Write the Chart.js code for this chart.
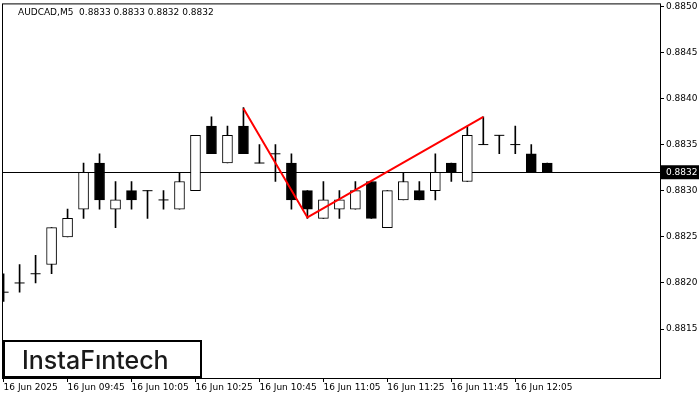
<!DOCTYPE html>
<html><head><meta charset="utf-8">
<script src="https://cdn.jsdelivr.net/npm/chart.js@4"></script>
<style>html,body{margin:0;padding:0;background:#fff;overflow:hidden}#w{width:704px;height:404px;position:absolute;left:-4px;top:-4px}</style>
</head><body><div id="w"><canvas id="c"></canvas></div>
<script>
const times=['16 Jun 2025','09:30','09:35','09:40','16 Jun 09:45','09:50','09:55','10:00','16 Jun 10:05','10:10','10:15','10:20','16 Jun 10:25','10:30','10:35','10:40','16 Jun 10:45','10:50','10:55','11:00','16 Jun 11:05','11:10','11:15','11:20','16 Jun 11:25','11:30','11:35','11:40','16 Jun 11:45','11:50','11:55','12:00','16 Jun 12:05','12:10','12:15'];
const opens =[.8819,.8820,.8821,.8822,.8825,.8828,.8833,.8828,.8830,.8830,.8829,.8828,.8830,.8837,.8833,.8837,.8833,.8834,.8833,.8830,.8827,.8828,.8828,.8831,.8826,.8829,.8830,.8830,.8833,.8831,.8835,.8836,.8835,.8834,.8833];
const highs =[.8821,.8822,.8823,.8826,.8828,.8833,.8834,.8831,.8831,.8830,.8830,.8832,.8836,.8838,.8837,.8839,.8835,.8835,.8834,.8830,.8831,.8830,.8831,.8831,.8830,.8832,.8831,.8834,.8833,.8837,.8838,.8836,.8837,.8835,.8833];
const lows  =[.8818,.8819,.8820,.8821,.8825,.8827,.8828,.8826,.8828,.8827,.8828,.8828,.8830,.8834,.8833,.8834,.8833,.8831,.8828,.8827,.8827,.8827,.8828,.8827,.8826,.8829,.8829,.8829,.8831,.8831,.8835,.8834,.8834,.8832,.8832];
const closes=[.8819,.8820,.8821,.8826,.8827,.8832,.8829,.8829,.8829,.8830,.8829,.8831,.8836,.8834,.8836,.8834,.8833,.8834,.8829,.8828,.8829,.8829,.8830,.8827,.8830,.8831,.8829,.8832,.8832,.8836,.8835,.8836,.8835,.8832,.8832];
const patternIdx=[15,19,30];
const patternVal=[.88389,.88271,.8838];
const priceTicks=[.8815,.8820,.8825,.8830,.8835,.8840,.8845,.8850];
const timeTickIdx=[0,4,8,12,16,20,24,28,32];
const currentPrice=.8832;
const title='AUDCAD,M5  0.8833 0.8833 0.8832 0.8832';

const F='"DejaVu Sans"';
const O=4;
const wick=[],body=[],bodyCol=[],doji=[];
for(let i=0;i<opens.length;i++){
  wick.push({x:i,y:[lows[i],highs[i]]});
  if(opens[i]===closes[i]) doji.push({x:i,y:opens[i]});
  else {body.push({x:i,y:[opens[i],closes[i]]}); bodyCol.push(closes[i]>opens[i]?'#fff':'#000');}
}
const extra={id:'extra',
 beforeDatasetsDraw(ch){const c=ch.ctx,a=ch.chartArea,y=ch.scales.y.getPixelForValue(currentPrice);
  c.save();c.strokeStyle='#000';c.lineWidth=1;c.beginPath();c.moveTo(a.left,Math.round(y)+.5);c.lineTo(a.right,Math.round(y)+.5);c.stroke();c.restore();},
 afterDraw(ch){const c=ch.ctx,a=ch.chartArea,y=ch.scales.y.getPixelForValue(currentPrice);
  c.save();c.strokeStyle='#000';c.lineWidth=1;
  const L=Math.max(a.left,O+1),T=Math.max(a.top,O);
  c.strokeRect(L+.5,T+.5,a.right-L,a.bottom-T);
  c.fillStyle='#000';c.fillRect(a.right+1,y-7,38,14);c.fillStyle='#fff';c.font='9px '+F;c.textBaseline='middle';c.fillText(currentPrice.toFixed(4),a.right+6,y);
  c.fillStyle='#000';c.textBaseline='alphabetic';c.fillText(title,18+O,15+O);
  c.fillStyle='#fff';c.fillRect(3+O,341+O,198,37);c.lineWidth=2;c.strokeRect(4+O,341+O,197,36);
  c.fillStyle='#1a1a1a';c.font='500 25px Inter';c.fillText('InstaFıntech',22+O,369+O);
  c.restore();}};
new Chart(document.getElementById('c'),{
 data:{datasets:[
  {type:'bar',data:wick,backgroundColor:'#000',barThickness:1,grouped:false,order:3},
  {type:'bar',data:body,backgroundColor:bodyCol,borderColor:'#000',borderWidth:1,borderSkipped:false,barThickness:10,grouped:false,order:2},
  {type:'scatter',data:doji,pointStyle:'line',radius:5,borderColor:'#000',borderWidth:1,order:1},
  {type:'line',data:patternIdx.map((x,k)=>({x,y:patternVal[k]})),borderColor:'#f00',borderWidth:2,pointRadius:0,order:0}
 ]},
 options:{responsive:true,maintainAspectRatio:false,animation:false,
  layout:{padding:0},
  plugins:{legend:{display:false},tooltip:{enabled:false}},
  scales:{
   x:{type:'linear',offset:false,min:-0.1,max:41.05,
     afterBuildTicks(s){s.ticks=timeTickIdx.map(v=>({value:v}));},
     afterFit(s){s.height=22;},
     grid:{drawOnChartArea:false,offset:false,tickLength:4,color:'#000'},border:{display:false},
     ticks:{autoSkip:false,maxRotation:0,align:'start',padding:0,color:'#000',font:{family:F,size:9},callback:v=>times[v]}},
   y:{position:'right',min:.88097,max:.88503,
     afterBuildTicks(s){s.ticks=priceTicks.map(v=>({value:v}));},
     afterFit(s){s.width=40;},
     grid:{drawOnChartArea:false,tickLength:4,color:'#000'},border:{display:false},
     ticks:{padding:2,color:'#000',font:{family:F,size:9},callback:v=>v.toFixed(4)}}
  }},
 plugins:[extra]});
</script></body></html>
